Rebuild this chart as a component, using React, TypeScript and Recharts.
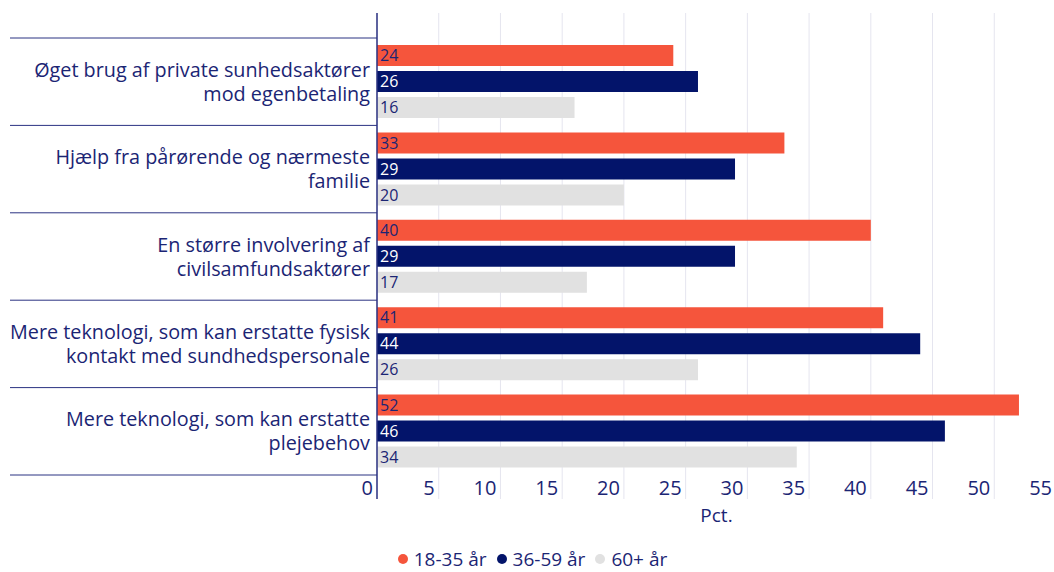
import React from 'react';
import { BarChart, Bar, XAxis, YAxis, CartesianGrid, Legend, LabelList } from 'recharts';

const categories = [
  'Øget brug af private sunhedsaktører\nmod egenbetaling',
  'Hjælp fra pårørende og nærmeste\nfamilie',
  'En større involvering af\ncivilsamfundsaktører',
  'Mere teknologi, som kan erstatte fysisk\nkontakt med sundhedspersonale',
  'Mere teknologi, som kan erstatte\nplejebehov',
];
const seriesNames = ['18-35 år', '36-59 år', '60+ år'];
const young = [24, 33, 40, 41, 52];
const middle = [26, 29, 29, 44, 46];
const older = [16, 20, 17, 26, 34];
const xTicks = [0, 5, 10, 15, 20, 25, 30, 35, 40, 45, 50, 55];
const xLabel = 'Pct.';

const FONT = '"Open Sans", Lato, sans-serif';
const TEXT = '#1b2574';
const AXIS = '#2b3282';
const ORANGE = '#f5553c';
const NAVY = '#03146a';
const GRAY = '#e1e1e1';

const WIDTH = 1056;
const HEIGHT = 572;
const AXIS_W = 377;
const PAD_TOP = 25;
const PAD_BOTTOM = 24;
const PLOT_H = 486;
const BAND = (PLOT_H - PAD_TOP - PAD_BOTTOM) / categories.length;
const LINE_GAP = 24;

const data = categories.map((name, i) => ({
  name,
  young: young[i],
  middle: middle[i],
  older: older[i],
}));

function CategoryTick(props: any) {
  const { y, payload, index } = props;
  const lines = String(payload.value).split('\n');
  const top = y - BAND / 2;
  const firstDy = -((lines.length - 1) / 2) * LINE_GAP + 7;
  return (
    <g>
      <line x1={10} x2={AXIS_W} y1={top} y2={top} stroke={AXIS} strokeWidth={1} />
      {index === categories.length - 1 && (
        <line x1={10} x2={AXIS_W} y1={y + BAND / 2} y2={y + BAND / 2} stroke={AXIS} strokeWidth={1} />
      )}
      <text x={370} y={y} textAnchor="end" fill={TEXT} fontSize={19.8} fontFamily={FONT}>
        {lines.map((l, i) => (
          <tspan key={i} x={370} dy={i === 0 ? firstDy : LINE_GAP}>
            {l}
          </tspan>
        ))}
      </text>
    </g>
  );
}

function ValueTick(props: any) {
  const { x, y, payload } = props;
  return (
    <text x={x - 4} y={y - 4} textAnchor="end" fill={TEXT} fontSize={20} fontFamily={FONT}>
      {payload.value}
    </text>
  );
}

const barLabel = (color: string) => (props: any) => {
  const { x, y, height, value } = props;
  return (
    <text x={x + 3} y={y + height / 2} dy="0.36em" fill={color} fontSize={16} fontFamily={FONT}>
      {value}
    </text>
  );
};

function LegendContent(props: any) {
  const { payload = [] } = props;
  return (
    <div
      style={{
        display: 'flex',
        justifyContent: 'center',
        alignItems: 'center',
        height: 26,
        paddingLeft: 9,
        fontFamily: FONT,
        fontSize: 19,
        color: TEXT,
      }}
    >
      {payload.map((entry: any) => (
        <span key={entry.value} style={{ display: 'flex', alignItems: 'center', margin: '0 5px', whiteSpace: 'nowrap' }}>
          <span
            style={{
              width: 10,
              height: 10,
              borderRadius: '50%',
              background: entry.color,
              marginRight: 6,
            }}
          />
          {entry.value}
        </span>
      ))}
    </div>
  );
}

export default function App() {
  return (
    <div style={{ position: 'absolute', left: 0, top: 0, width: 1054, height: HEIGHT, overflow: 'hidden', background: '#fff' }}>
      <BarChart
        width={WIDTH}
        height={HEIGHT}
        data={data}
        layout="vertical"
        margin={{ top: 13, right: 0, bottom: 24, left: 0 }}
        barSize={21}
        barGap={5}
      >
        <CartesianGrid horizontal={false} stroke="#e5e5ef" />
        <XAxis
          type="number"
          domain={[0, 55]}
          ticks={xTicks}
          axisLine={false}
          tickLine={false}
          tickSize={0}
          tickMargin={0}
          height={23}
          tick={<ValueTick />}
          interval={0}
          label={{ value: xLabel, position: 'insideBottom', offset: 0, fill: TEXT, fontSize: 19, fontFamily: FONT }}
        />
        <YAxis
          type="category"
          dataKey="name"
          width={AXIS_W}
          padding={{ top: PAD_TOP, bottom: PAD_BOTTOM }}
          axisLine={{ stroke: AXIS, strokeWidth: 1.5 }}
          tickLine={false}
          tick={<CategoryTick />}
          interval={0}
        />
        <Legend verticalAlign="bottom" content={<LegendContent />} wrapperStyle={{ bottom: 0 }} />
        <Bar dataKey="young" name={seriesNames[0]} fill={ORANGE} isAnimationActive={false}>
          <LabelList dataKey="young" content={barLabel(TEXT)} />
        </Bar>
        <Bar dataKey="middle" name={seriesNames[1]} fill={NAVY} isAnimationActive={false}>
          <LabelList dataKey="middle" content={barLabel('#ffffff')} />
        </Bar>
        <Bar dataKey="older" name={seriesNames[2]} fill={GRAY} isAnimationActive={false}>
          <LabelList dataKey="older" content={barLabel(TEXT)} />
        </Bar>
      </BarChart>
    </div>
  );
}
